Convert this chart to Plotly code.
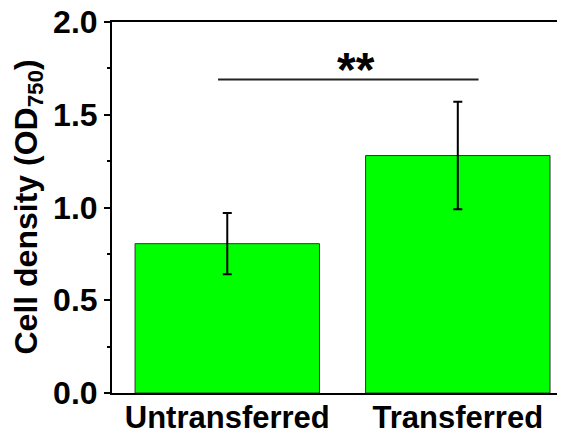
import plotly.graph_objects as go

categories = ["Untransferred", "Transferred"]
means = [0.805, 1.28]
errors = [0.165, 0.29]
y_ticks = [0.0, 0.5, 1.0, 1.5, 2.0]
y_tick_labels = ["0.0", "0.5", "1.0", "1.5", "2.0"]
sig_x = [-0.04, 1.09]
sig_y = 1.69
sig_label = "**"
y_title = "Cell density (OD<sub>750</sub>)"

FONT = "Liberation Sans, Arial, sans-serif"
# page body has an 8px default margin; compensate so the plot lands where the reference has it
W, H = 557, 423

fig = go.Figure()
fig.add_trace(go.Bar(
    x=[0, 1], y=means, width=0.8,
    marker=dict(color="#00FF00", line=dict(color="#333333", width=1)),
    error_y=dict(type="data", array=errors, visible=True, color="black", thickness=2, width=4.5),
))

fig.add_shape(type="line", xref="x", yref="y", x0=sig_x[0], x1=sig_x[1], y0=sig_y, y1=sig_y,
              line=dict(color="#222222", width=2))
fig.add_annotation(x=(sig_x[0] + sig_x[1]) / 2, y=sig_y, xref="x", yref="y", text="<b>" + sig_label + "</b>",
                   showarrow=False, yanchor="bottom", yshift=-18, xshift=8,
                   font=dict(family=FONT, size=48, color="black"))

L, T, B, R = 104, 14, 38, 0
pw = W - L - R
fig.add_annotation(xref="paper", yref="paper", x=(20 - L) / pw, y=0.5, xanchor="center", yanchor="middle",
                   text="<b>" + y_title + "</b>", textangle=-90, showarrow=False,
                   font=dict(family=FONT, size=32, color="black"))

fig.update_layout(
    width=W, height=H,
    margin=dict(l=L, r=R, t=T, b=B, autoexpand=False),
    plot_bgcolor="white", paper_bgcolor="white",
    showlegend=False,
    font=dict(family=FONT, color="black"),
)
fig.update_xaxes(
    range=[-0.5, 1.465], tickmode="array", tickvals=[0, 1],
    ticktext=["<b>" + c + "</b>" for c in categories],
    tickfont=dict(family=FONT, size=31, color="black"),
    showline=True, linewidth=2, linecolor="black", mirror=True,
    ticks="", showgrid=False, zeroline=False, automargin=False,
    ticklabelstandoff=-4, ticklabeloverflow="allow",
)
fig.update_yaxes(
    range=[0, 2.0], tickmode="array", tickvals=y_ticks,
    ticktext=["<b>" + t + "</b>" for t in y_tick_labels],
    tickfont=dict(family=FONT, size=32, color="black"),
    showline=True, linewidth=2, linecolor="black",
    ticks="outside", ticklen=6, tickwidth=2, tickcolor="black",
    minor=dict(tickvals=[0.25, 0.75, 1.25, 1.75], ticks="outside", ticklen=3, tickwidth=2, tickcolor="black"),
    showgrid=False, zeroline=False, automargin=False, ticklabeloverflow="allow",
)

fig.write_html("out.html")
